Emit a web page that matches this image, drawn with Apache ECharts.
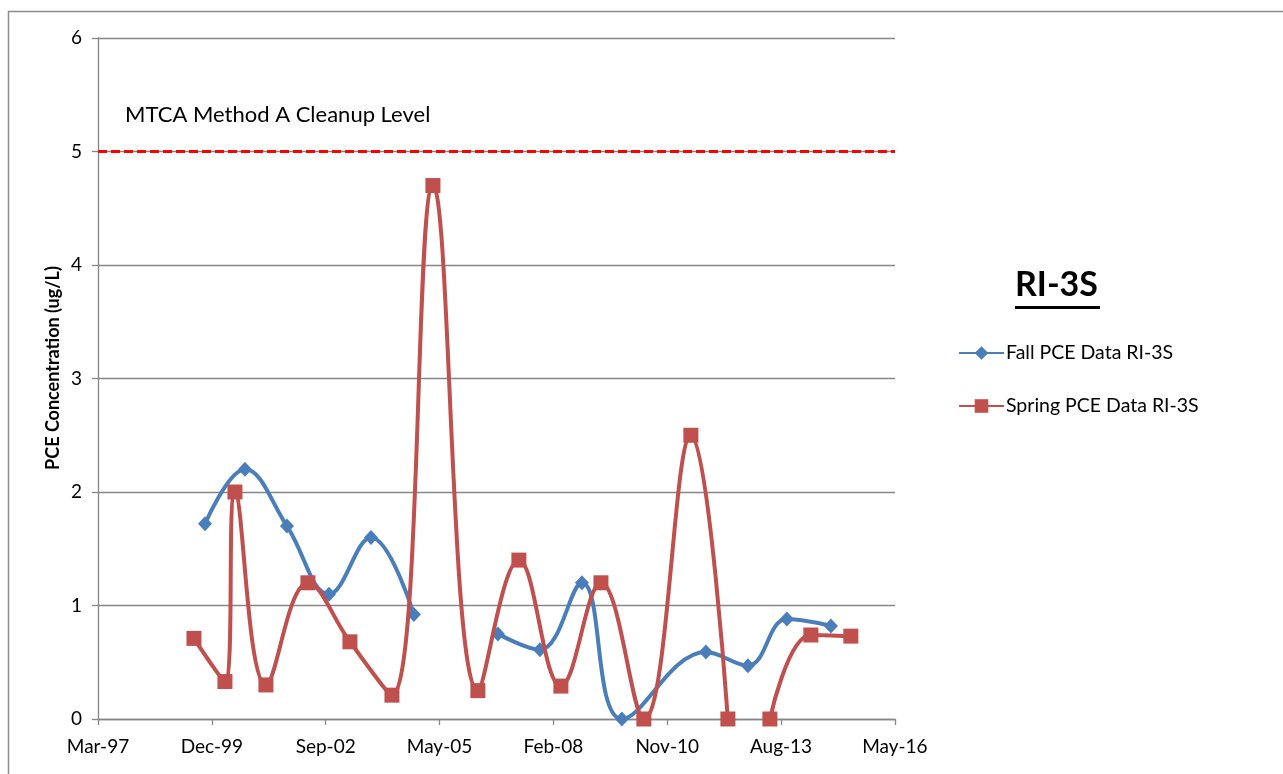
<!DOCTYPE html>
<html><head><meta charset="utf-8">
<script src="https://cdn.jsdelivr.net/npm/echarts@6/dist/echarts.min.js"></script>
<style>html,body{margin:0;padding:0;background:#fff}#c{width:1283px;height:774px}</style>
</head><body><div id="c"></div>
<script>
// ---- data ----
const fallDates = ['1999-10-07','2000-09-22','2001-09-26','2002-09-30','2003-10-04','2004-10-15','2005-10-15','2006-10-23','2007-10-27','2008-10-30','2009-10-16','2011-10-24','2012-10-27','2013-10-04','2014-10-26'];
const fallValues = [1.72, 2.2, 1.7, 1.1, 1.6, 0.92, null, 0.75, 0.61, 1.2, 0, 0.59, 0.47, 0.88, 0.82];
const springDates = ['1999-07-02','2000-03-30','2000-06-26','2001-03-25','2002-03-29','2003-04-02','2004-04-05','2005-03-31','2006-04-30','2007-04-25','2008-04-28','2009-04-15','2010-04-27','2011-06-14','2012-05-04','2012-11-01','2013-05-08','2014-05-03','2015-04-19'];
const springValues = [0.71, 0.33, 2.0, 0.30, 1.2, 0.68, 0.21, 4.7, 0.25, 1.4, 0.29, 1.2, 0, 2.5, 0, null, 0, 0.74, 0.73];
const xAxisMin = '1997-03-11', xAxisMax = '2016-05-11', xAxisStepDays = 1000;
const cleanupLevel = 5;
const cleanupLabel = 'MTCA Method A Cleanup Level';
const seriesNames = ['Fall PCE Data RI-3S', 'Spring PCE Data RI-3S'];
const wellName = 'RI-3S';
const yAxisName = 'PCE Concentration (ug/L)';

// ---- helpers ----
const EPOCH = Date.UTC(1899, 11, 30);
function serial(s){ const [y,m,d]=s.split('-').map(Number); return Math.round((Date.UTC(y,m-1,d)-EPOCH)/86400000); }
const MON=['Jan','Feb','Mar','Apr','May','Jun','Jul','Aug','Sep','Oct','Nov','Dec'];
function fmt(v){ const dt=new Date(EPOCH+v*86400000); return MON[dt.getUTCMonth()]+'-'+String(dt.getUTCFullYear()%100).padStart(2,'0'); }
function pairs(ds, vs){ return ds.map((d,i)=>[serial(d), vs[i]==null?'-':vs[i]]); }

const FONT = 'Lato';
const chart = echarts.init(document.getElementById('c'));
chart.setOption({
  animation:false,
  backgroundColor:'#fff',
  grid:{left:98, right:388, top:38, bottom:55, containLabel:false},
  xAxis:{type:'value', min:serial(xAxisMin), max:serial(xAxisMax), interval:xAxisStepDays,
    axisLine:{lineStyle:{color:'#868686', width:1.3}},
    axisTick:{show:true, length:6, lineStyle:{color:'#868686', width:1.3}},
    splitLine:{show:false},
    axisLabel:{formatter:fmt, color:'#000', fontFamily:FONT, fontSize:19, margin:18}
  },
  yAxis:{type:'value', min:0, max:6, interval:1,
    axisLine:{show:true, lineStyle:{color:'#868686', width:1.3}},
    axisTick:{show:true, length:6, lineStyle:{color:'#868686', width:1.3}},
    splitLine:{lineStyle:{color:'#868686', width:1.3}},
    axisLabel:{color:'#000', fontFamily:FONT, fontSize:19, margin:16}
  },
  legend:{orient:'vertical', left:958, top:343, padding:0, itemWidth:45, itemHeight:17, itemGap:33,
    data:seriesNames, textStyle:{fontFamily:FONT, fontSize:19.5, lineHeight:20, color:'#000', padding:[0,0,0,-3]}},
  series:[
    {name:seriesNames[0], type:'line', data:pairs(fallDates, fallValues), smooth:0.4,
     symbol:'diamond', symbolSize:[14,15], connectNulls:false,
     lineStyle:{color:'#4A7EBB', width:4}, itemStyle:{color:'#4A7EBB'}, z:3},
    {name:seriesNames[1], type:'line', data:pairs(springDates, springValues), smooth:0.4,
     symbol:'rect', symbolSize:15, connectNulls:false,
     lineStyle:{color:'#C0504D', width:4}, itemStyle:{color:'#C0504D'}, z:4,
     markLine:{silent:true, symbol:'none', label:{show:false},
       lineStyle:{color:'#FF0000', type:[9,4], width:3}, data:[{yAxis:cleanupLevel}]}}
  ],
  graphic:[
    {type:'rect', shape:{x:8.5, y:11.5, width:1400, height:900}, style:{fill:null, stroke:'#8c8c8c', lineWidth:1.5}, silent:true, z:-1},
    {type:'text', x:53, y:368, rotation:Math.PI/2, style:{text:yAxisName, font:'bold 18px Lato', fill:'#000', align:'center', verticalAlign:'middle'}},
    {type:'text', left:125, top:104, style:{text:cleanupLabel, font:'22px Lato', fill:'#000'}},
    {type:'text', left:1015, top:268, style:{text:wellName, font:'bold 34px Lato', fill:'#000'}},
    {type:'rect', left:1015, top:306, shape:{width:85, height:3}, style:{fill:'#000'}}
  ]
});
</script></body></html>
